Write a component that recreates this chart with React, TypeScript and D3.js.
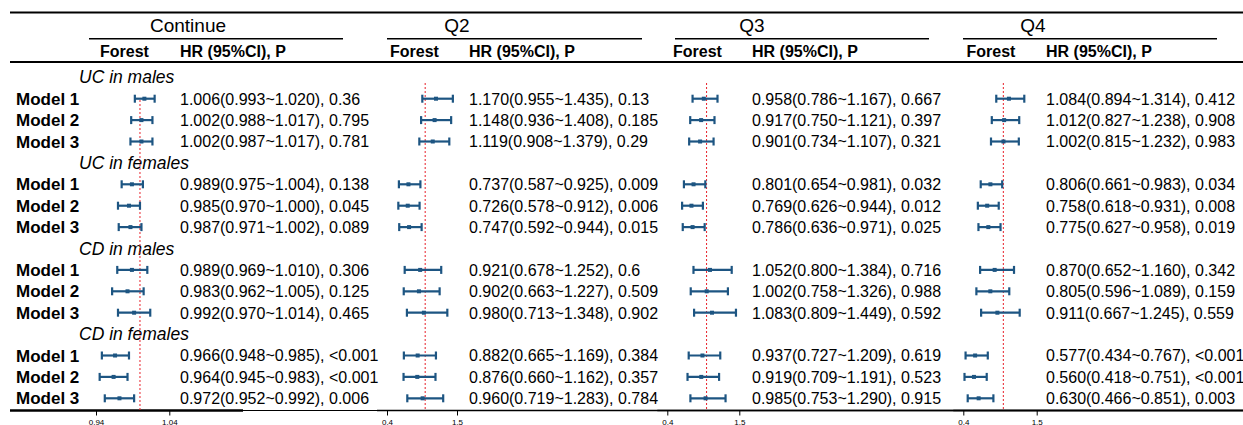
import * as d3 from "d3";
import { useRef, useEffect } from "react";

// row labels
const groups = ["UC in males", "UC in females", "CD in males", "CD in females"];
const models = ["Model 1", "Model 2", "Model 3"];
const panels = ["Continue", "Q2", "Q3", "Q4"];

// tick labels for each forest axis
const ticksContinue = [0.94, 1.04];
const ticksQ = [0.4, 1.5];

// [hr, lower, upper] per model, groups in order above
const hrContinue = [
  [1.006, 0.993, 1.02], [1.002, 0.988, 1.017], [1.002, 0.987, 1.017],
  [0.989, 0.975, 1.004], [0.985, 0.97, 1.0], [0.987, 0.971, 1.002],
  [0.989, 0.969, 1.01], [0.983, 0.962, 1.005], [0.992, 0.97, 1.014],
  [0.966, 0.948, 0.985], [0.964, 0.945, 0.983], [0.972, 0.952, 0.992],
];
const pContinue = ["0.36", "0.795", "0.781", "0.138", "0.045", "0.089", "0.306", "0.125", "0.465", "<0.001", "<0.001", "0.006"];

const hrQ2 = [
  [1.17, 0.955, 1.435], [1.148, 0.936, 1.408], [1.119, 0.908, 1.379],
  [0.737, 0.587, 0.925], [0.726, 0.578, 0.912], [0.747, 0.592, 0.944],
  [0.921, 0.678, 1.252], [0.902, 0.663, 1.227], [0.98, 0.713, 1.348],
  [0.882, 0.665, 1.169], [0.876, 0.66, 1.162], [0.96, 0.719, 1.283],
];
const pQ2 = ["0.13", "0.185", "0.29", "0.009", "0.006", "0.015", "0.6", "0.509", "0.902", "0.384", "0.357", "0.784"];

const hrQ3 = [
  [0.958, 0.786, 1.167], [0.917, 0.75, 1.121], [0.901, 0.734, 1.107],
  [0.801, 0.654, 0.981], [0.769, 0.626, 0.944], [0.786, 0.636, 0.971],
  [1.052, 0.8, 1.384], [1.002, 0.758, 1.326], [1.083, 0.809, 1.449],
  [0.937, 0.727, 1.209], [0.919, 0.709, 1.191], [0.985, 0.753, 1.29],
];
const pQ3 = ["0.667", "0.397", "0.321", "0.032", "0.012", "0.025", "0.716", "0.988", "0.592", "0.619", "0.523", "0.915"];

const hrQ4 = [
  [1.084, 0.894, 1.314], [1.012, 0.827, 1.238], [1.002, 0.815, 1.232],
  [0.806, 0.661, 0.983], [0.758, 0.618, 0.931], [0.775, 0.627, 0.958],
  [0.87, 0.652, 1.16], [0.805, 0.596, 1.089], [0.911, 0.667, 1.245],
  [0.577, 0.434, 0.767], [0.56, 0.418, 0.751], [0.63, 0.466, 0.851],
];
const pQ4 = ["0.412", "0.908", "0.983", "0.034", "0.008", "0.019", "0.342", "0.159", "0.559", "<0.001", "<0.001", "0.003"];

const W = 1243;
const H = 425;
const FONT = "'Liberation Sans', Arial, sans-serif";
const CI_COLOR = "#1d5582";

// layout of each panel: forest axis range in px, text column x
const layout = [
  { name: panels[0], hr: hrContinue, p: pContinue, ticks: ticksContinue, range: [96, 169.3], headX: 188, forestX: 100, textX: 180, lineX: [89, 343], refTop: 100 },
  { name: panels[1], hr: hrQ2, p: pQ2, ticks: ticksQ, range: [387, 457], headX: 457, forestX: 390, textX: 469, lineX: [387, 642], refTop: 83 },
  { name: panels[2], hr: hrQ3, p: pQ3, ticks: ticksQ, range: [667.3, 739.3], headX: 752, forestX: 673, textX: 752, lineX: [675, 929], refTop: 83 },
  { name: panels[3], hr: hrQ4, p: pQ4, ticks: ticksQ, range: [963.3, 1036.7], headX: 1033, forestX: 966.5, textX: 1046, lineX: [963, 1217], refTop: 83 },
];

const App = () => {
  const ref = useRef(null);

  useEffect(() => {
    const svg = d3.select(ref.current);
    svg.selectAll("*").remove();

    // rows: group header followed by 3 models
    const rows = [];
    groups.forEach((g, gi) => {
      rows.push({ id: `g${gi}`, type: "group", label: g });
      models.forEach((m, mi) => rows.push({ id: `m${gi}_${mi}`, type: "model", label: m, idx: gi * 3 + mi }));
    });
    const y = d3.scalePoint().domain(rows.map((r) => r.id)).range([77.3, 398.3]);

    const yAxis = 410.5;

    // table rules
    const hline = (x1, x2, yy, w) =>
      svg.append("line").attr("x1", x1).attr("x2", x2).attr("y1", yy).attr("y2", yy)
        .attr("stroke", "#000").attr("stroke-width", w);
    hline(10, W, 12.5, 2);
    hline(10, W, 62, 2);
    hline(243, W, yAxis, 1);
    hline(10, 243, yAxis, 2.5);

    // row labels
    rows.forEach((r) => {
      if (r.type === "group") {
        svg.append("text").attr("x", 79).attr("y", y(r.id) + 6)
          .attr("font-family", FONT).attr("font-size", 17.5).attr("font-style", "italic")
          .text(r.label);
      } else {
        svg.append("text").attr("x", 16).attr("y", y(r.id) + 6)
          .attr("font-family", FONT).attr("font-size", 17).attr("font-weight", "bold")
          .text(r.label);
      }
    });

    const fmt = d3.format(".3f");

    layout.forEach((p) => {
      const x = d3.scaleLinear().domain([p.ticks[0], p.ticks[1]]).range(p.range);

      // panel header
      svg.append("text").attr("x", p.headX).attr("y", 31.5).attr("text-anchor", "middle")
        .attr("font-family", FONT).attr("font-size", 19).text(p.name);
      hline(p.lineX[0], p.lineX[1], 38.7, 1.5);
      svg.append("text").attr("x", p.forestX).attr("y", 57).attr("font-family", FONT)
        .attr("font-size", 16).attr("font-weight", "bold").text("Forest");
      svg.append("text").attr("x", p.textX).attr("y", 57).attr("font-family", FONT)
        .attr("font-size", 16).attr("font-weight", "bold").text("HR (95%CI), P");

      // axis
      if (p.name !== "Continue") hline(p.range[0] - 10, W, yAxis, 1.5);
      const ax = svg.append("g").attr("transform", `translate(0, ${yAxis})`)
        .call(d3.axisBottom(x).tickValues(p.ticks).tickSize(5).tickSizeOuter(0).tickFormat((d) => String(d)));
      ax.select(".domain").remove();
      ax.selectAll("line").attr("stroke", "#000");
      ax.selectAll("text").attr("font-family", FONT).attr("font-size", 8).attr("dy", 0).attr("y", 14);

      // reference line at 1
      svg.append("line").attr("x1", x(1)).attr("x2", x(1)).attr("y1", p.refTop).attr("y2", yAxis)
        .attr("stroke", "#e8202a").attr("stroke-width", 1).attr("stroke-dasharray", "2,2");

      // forest marks
      rows.filter((r) => r.type === "model").forEach((r) => {
        const [hr, lo, hi] = p.hr[r.idx];
        const yy = y(r.id);
        const g = svg.append("g").attr("stroke", CI_COLOR).attr("stroke-width", 2.2);
        g.append("line").attr("x1", x(lo)).attr("x2", x(hi)).attr("y1", yy).attr("y2", yy);
        g.append("line").attr("x1", x(lo)).attr("x2", x(lo)).attr("y1", yy - 4).attr("y2", yy + 4);
        g.append("line").attr("x1", x(hi)).attr("x2", x(hi)).attr("y1", yy - 4).attr("y2", yy + 4);
        svg.append("rect").attr("x", x(hr) - 2).attr("y", yy - 2).attr("width", 4).attr("height", 4)
          .attr("fill", CI_COLOR);

        svg.append("text").attr("x", p.textX).attr("y", yy + 5.8)
          .attr("font-family", FONT).attr("font-size", 16)
          .text(`${fmt(hr)}(${fmt(lo)}~${fmt(hi)}), ${p.p[r.idx]}`);
      });
    });
  }, []);

  return (
    <svg ref={ref} width={W} height={H}
      style={{ position: "absolute", left: 0, top: 0, background: "#fff" }} />
  );
};

export default App;
